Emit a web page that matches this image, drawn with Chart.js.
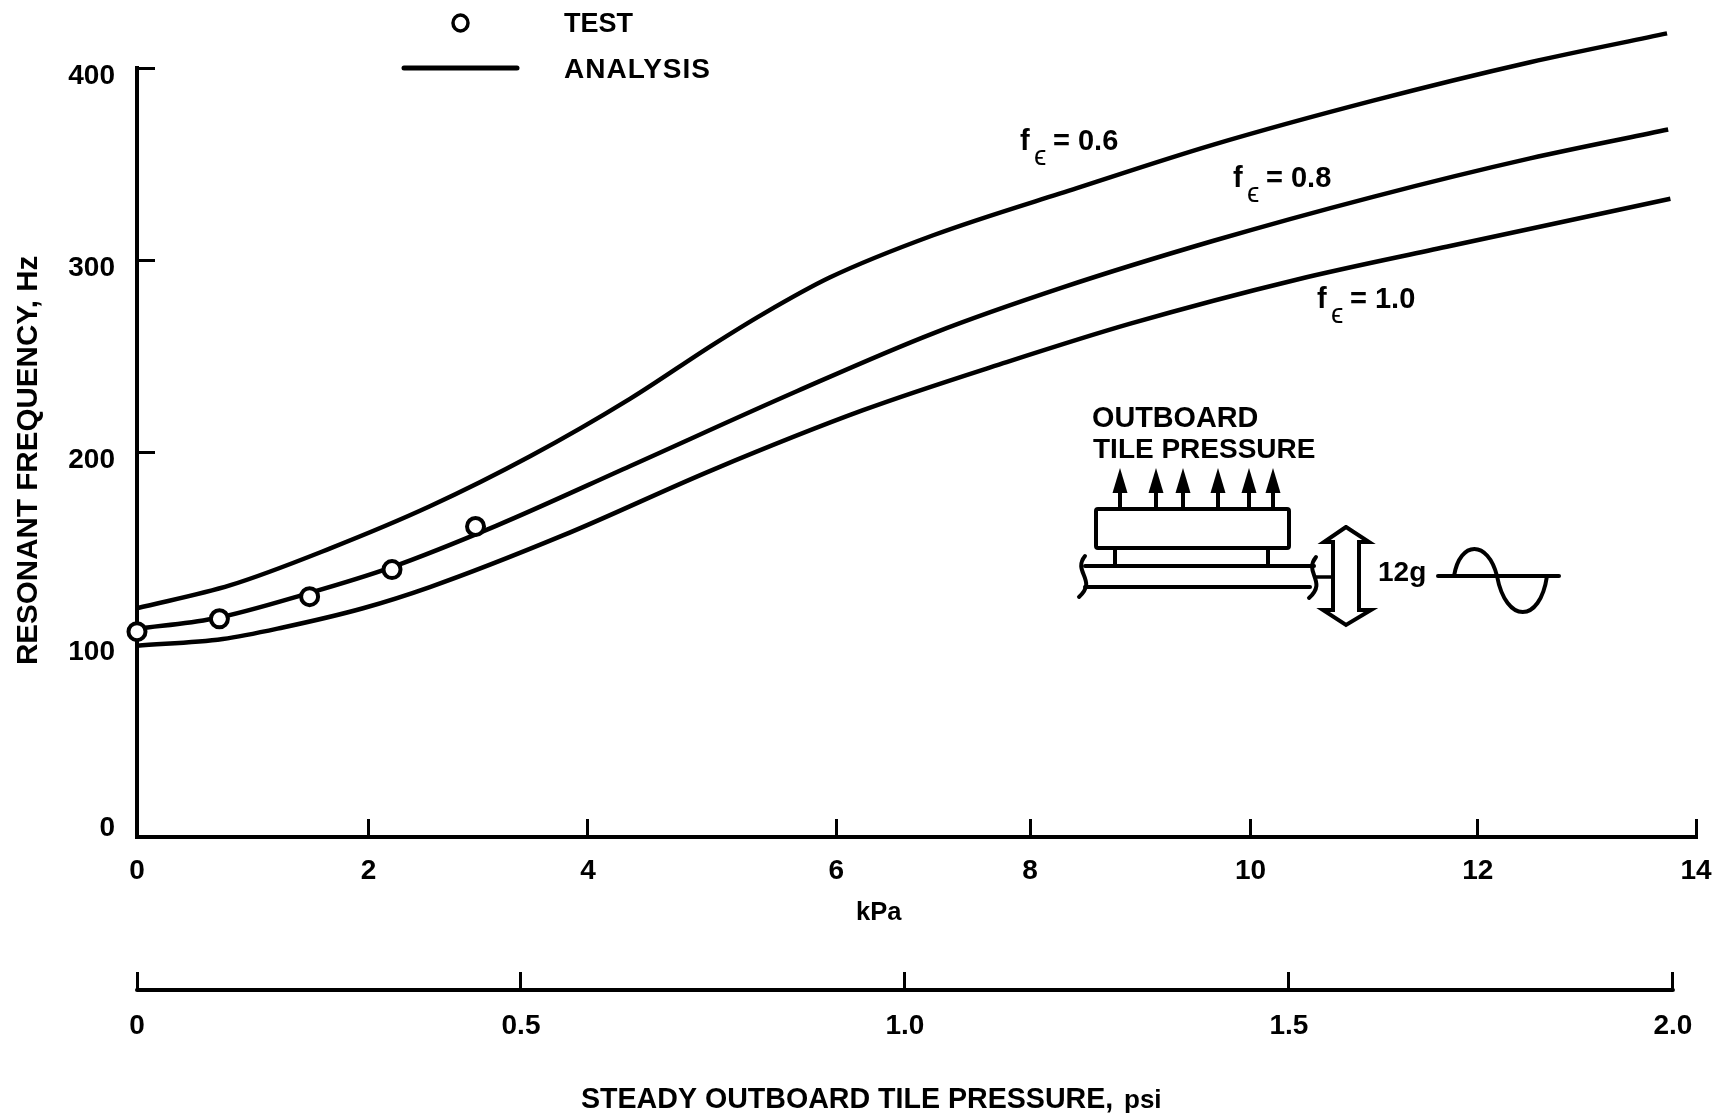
<!DOCTYPE html>
<html>
<head>
<meta charset="utf-8">
<title>Resonant frequency vs steady outboard tile pressure</title>
<script src="https://cdnjs.cloudflare.com/ajax/libs/Chart.js/4.4.1/chart.umd.min.js"></script>
<style>
  html, body { margin: 0; padding: 0; background: #fff; }
  canvas { display: block; }
</style>
</head>
<body>
<canvas id="chart" width="1723" height="1117"></canvas>
<script>
// values. the original was hand drawn, so its kPa ticks are not evenly spaced
const kpaTickAt     = [0, 2.08, 4.05, 6.28, 8.02, 10, 12.04, 14];
const kpaTickLabels = ['0', '2', '4', '6', '8', '10', '12', '14'];
const psiTicks      = [0, 0.5, 1, 1.5, 2];
const psiTickLabels = ['0', '0.5', '1.0', '1.5', '2.0'];
const freqTicks     = [0, 100, 200, 300, 400];

const kpa06  = [0, 0.84, 1.73, 2.63, 3.53, 4.43, 5.17, 5.62, 6.22, 7.15, 8.44, 9.66, 11.10, 12.51, 13.74];
const freq06 = [119, 131, 150, 172, 198, 228, 256, 272, 291, 313, 337.5, 360, 383, 403, 418];

const kpa08  = [0, 0.68, 1.55, 2.27, 3.23, 4.43, 5.93, 7.15, 8.32, 9.66, 11.10, 12.51, 13.75];
const freq08 = [108.3, 113.5, 127, 140, 162, 193, 232, 262, 286, 310, 333, 353, 368];

const kpa10  = [0, 0.77, 1.31, 2.03, 2.63, 3.83, 5.17, 6.52, 7.81, 8.92, 10.42, 11.76, 13.77];
const freq10 = [99.5, 103, 109, 119, 130, 157, 191, 222, 247, 267, 290, 307, 332];

const testKpa  = [0, 0.74, 1.55, 2.29, 3.04];
const testFreq = [106.8, 113.5, 125, 139.1, 161.5];

const INK  = '#000';
const FONT = '"Liberation Sans", Arial, sans-serif';
const tickFont = { family: FONT, size: 28, weight: 'bold' };

const zip = (xs, ys) => xs.map((x, i) => ({ x, y: ys[i] }));

function curve(label, xs, ys) {
  return {
    label, data: zip(xs, ys), showLine: true, clip: false, order: 1,
    borderColor: INK, borderWidth: 4.5, pointRadius: 0, cubicInterpolationMode: 'monotone',
  };
}

function bottomAxis(min, max, height, padding, tickValues, tickLabels, extra) {
  return {
    type: 'linear', axis: 'x', position: 'bottom', min, max,
    afterFit: s => { s.height = height; s.paddingLeft = 0; s.paddingRight = 0; },
    afterBuildTicks: s => { s.ticks = tickValues.map(value => ({ value })); },
    grid: { drawOnChartArea: false, tickLength: -18, tickWidth: 3, tickColor: INK },
    ticks: {
      color: INK, font: tickFont, padding, maxRotation: 0, autoSkip: false,
      callback: (v, i) => tickLabels[i],
    },
    ...extra,
  };
}

function text(ctx, str, x, y, size, weight = 'bold', spacing = 0) {
  ctx.font = `${weight} ${size}px ${FONT}`;
  ctx.letterSpacing = spacing + 'px';
  ctx.textAlign = 'left';
  ctx.textBaseline = 'alphabetic';
  ctx.fillText(str, x, y);
}

function line(ctx, pts, width = 4) {
  ctx.lineWidth = width;
  ctx.beginPath();
  pts.forEach(([x, y], i) => (i ? ctx.lineTo(x, y) : ctx.moveTo(x, y)));
  ctx.stroke();
}

// f with the epsilon subscript, then the "= value" part
function curveLabel(ctx, value, x, baseline) {
  text(ctx, 'f', x, baseline, 29);
  text(ctx, 'ϵ', x + 14, baseline + 15, 28, 'normal');
  text(ctx, '= ' + value, x + 33, baseline, 29);
}

// the small test rig sketch to the right of the curves
function drawRig(ctx) {
  [1120, 1156, 1183, 1218, 1249, 1273].forEach(x => {
    line(ctx, [[x, 509], [x, 490]], 4);
    ctx.beginPath();
    ctx.moveTo(x, 468); ctx.lineTo(x + 7.5, 493); ctx.lineTo(x - 7.5, 493);
    ctx.closePath(); ctx.fill();
  });
  ctx.lineWidth = 4;
  ctx.beginPath();
  ctx.roundRect(1096, 509, 193, 39, 2);
  ctx.stroke();
  line(ctx, [[1115, 548], [1115, 566]]);
  line(ctx, [[1268, 548], [1268, 566]]);
  line(ctx, [[1085, 566], [1314, 566]]);
  line(ctx, [[1085, 587], [1310, 587]]);

  ctx.beginPath();
  ctx.moveTo(1085, 556);
  ctx.bezierCurveTo(1072, 572, 1098, 580, 1079, 597);
  ctx.moveTo(1316, 557);
  ctx.bezierCurveTo(1303, 573, 1328, 581, 1309, 598);
  ctx.stroke();
  line(ctx, [[1316, 577], [1333, 577]], 3.5);

  // double headed arrow
  line(ctx, [
    [1346, 527], [1369, 542], [1359, 542], [1359, 610], [1371, 610], [1346, 625],
    [1323, 610], [1333, 610], [1333, 542], [1324, 542], [1346, 527],
  ], 4);

  text(ctx, '12g', 1378, 581, 28);

  line(ctx, [[1438, 576], [1559, 576]]);
  ctx.lineWidth = 4;
  ctx.beginPath();
  ctx.moveTo(1454, 576);
  ctx.bezierCurveTo(1460, 540, 1488, 540, 1497, 576);
  ctx.bezierCurveTo(1506, 624, 1540, 624, 1547, 576);
  ctx.stroke();
}

const annotations = {
  id: 'annotations',
  afterDraw(chart) {
    const { ctx, scales } = chart;
    ctx.save();
    ctx.fillStyle = INK;
    ctx.strokeStyle = INK;
    ctx.lineCap = 'round';

    // psi axis line stops at 2.0, not at the edge of the plot
    const psiY = scales.psi.top;
    line(ctx, [[scales.psi.getPixelForValue(0), psiY], [scales.psi.getPixelForValue(2), psiY]], 4);

    // legend
    ctx.lineWidth = 3.5;
    ctx.beginPath();
    ctx.ellipse(460.5, 23, 7.5, 8, 0, 0, Math.PI * 2);
    ctx.stroke();
    text(ctx, 'TEST', 564, 32, 27);
    line(ctx, [[404, 68], [517, 68]], 5);
    text(ctx, 'ANALYSIS', 564, 78, 28, 'bold', 1);

    curveLabel(ctx, '0.6', 1020, 150);
    curveLabel(ctx, '0.8', 1233, 187);
    curveLabel(ctx, '1.0', 1317, 308);

    text(ctx, 'OUTBOARD', 1092, 427, 28.8);
    text(ctx, 'TILE PRESSURE', 1093, 458, 28);
    drawRig(ctx);

    // axis titles
    text(ctx, 'kPa', 856, 920, 25.5);
    text(ctx, 'STEADY OUTBOARD TILE PRESSURE,', 581, 1108, 28.6);
    text(ctx, 'psi', 1124, 1108, 26);
    ctx.translate(37, 665);
    ctx.rotate(-Math.PI / 2);
    text(ctx, 'RESONANT FREQUENCY, Hz', 0, 0, 29.6);
    ctx.restore();
  },
};

new Chart(document.getElementById('chart'), {
  type: 'scatter',
  plugins: [annotations],
  data: {
    datasets: [
      {
        label: 'TEST', data: zip(testKpa, testFreq), clip: false, order: 0,
        pointRadius: 8.5, pointBorderWidth: 4, pointBorderColor: INK, pointBackgroundColor: '#fff',
      },
      curve('f = 0.6', kpa06, freq06),
      curve('f = 0.8', kpa08, freq08),
      curve('f = 1.0', kpa10, freq10),
    ],
  },
  options: {
    responsive: false,
    animation: false,
    layout: { padding: { top: 68, right: 27 } },
    events: [],
    plugins: { legend: { display: false }, tooltip: { enabled: false } },
    scales: {
      x: bottomAxis(0, 14, 153, 35, kpaTickAt, kpaTickLabels, {
        weight: 0,
        border: { color: INK, width: 4 },
      }),
      psi: bottomAxis(0, 2.03, 127, 37, psiTicks, psiTickLabels, {
        weight: 1,
        border: { display: false },
      }),
      y: {
        min: 0, max: 400,
        afterFit: s => { s.width = 137; },
        afterBuildTicks: s => { s.ticks = freqTicks.map(value => ({ value })); },
        border: { color: INK, width: 4 },
        grid: {
          drawOnChartArea: false, tickLength: -18, tickWidth: 3,
          tickColor: c => (c.tick.value >= 200 ? INK : 'transparent'),
        },
        ticks: {
          color: INK, font: tickFont, padding: 40, labelOffset: 8,
          // the empty second line lifts the 0 clear of the baseline, as in the original
          callback: v => (v === 0 ? ['0', ''] : String(v)),
        },
      },
    },
  },
});
</script>
</body>
</html>
